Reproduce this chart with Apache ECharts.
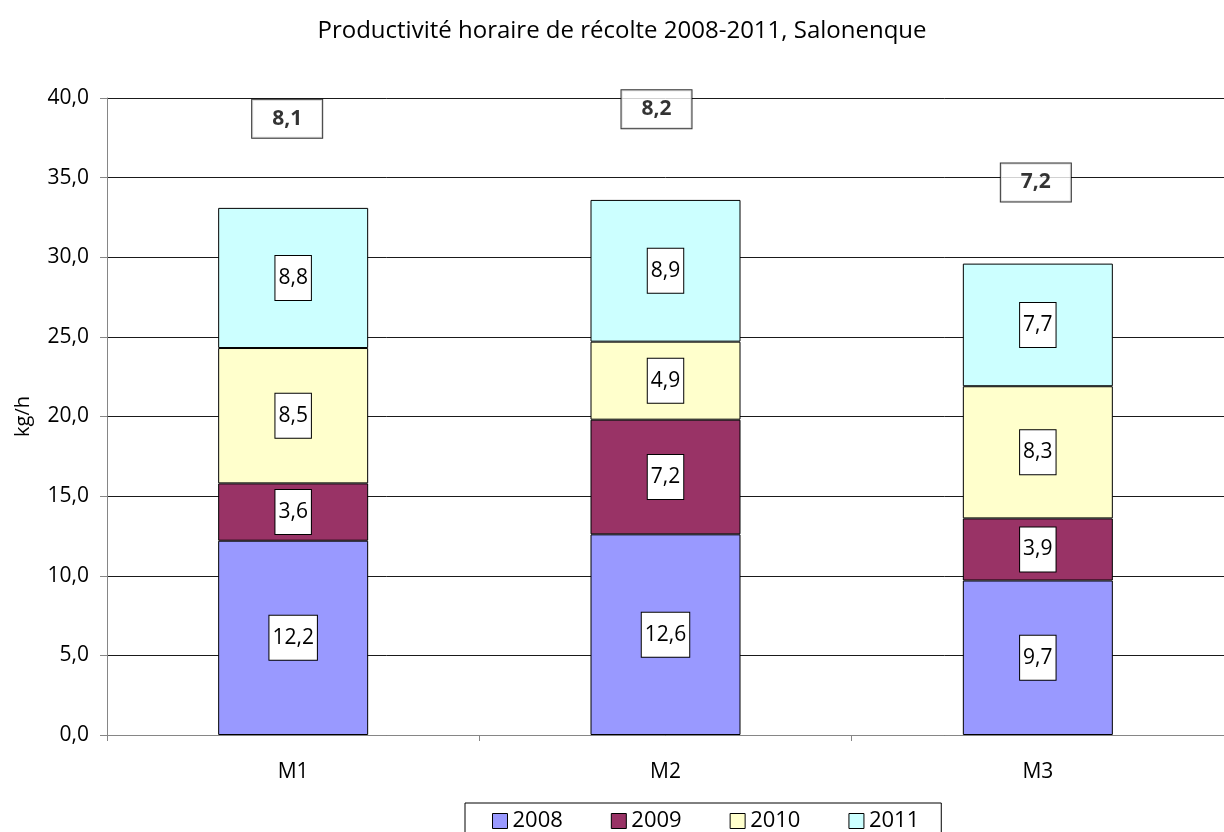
<!DOCTYPE html>
<html>
<head>
<meta charset="utf-8">
<script src="https://cdn.jsdelivr.net/npm/echarts@6/dist/echarts.min.js"></script>
<style>html,body{margin:0;padding:0;background:#fff;}#chart{width:1224px;height:832px;}</style>
</head>
<body>
<div id="chart"></div>
<script>
var titleText = 'Productivité horaire de récolte 2008-2011, Salonenque';
var categories = ['M1', 'M2', 'M3'];
var seriesNames = ['2008', '2009', '2010', '2011'];
var values2008 = [12.2, 12.6, 9.7];
var values2009 = [3.6, 7.2, 3.9];
var values2010 = [8.5, 4.9, 8.3];
var values2011 = [8.8, 8.9, 7.7];
var avgValues = [8.1, 8.2, 7.2];
var avgLabelY = [38.7, 39.3, 34.7];
var yTicks = [0, 5, 10, 15, 20, 25, 30, 35, 40];

var FONT = '"Open Sans", "Noto Sans", sans-serif';
var colors = ['#9999FF', '#993366', '#FFFFCC', '#CCFFFF'];
var allValues = [values2008, values2009, values2010, values2011];
function fmt(v) { return v.toFixed(1).replace('.', ','); }

var barSeries = seriesNames.map(function (name, i) {
  return {
    name: name,
    type: 'bar',
    stack: 'total',
    barWidth: 150,
    data: allValues[i],
    itemStyle: { color: colors[i], borderColor: '#000', borderWidth: 1 },
    label: {
      show: true,
      position: 'inside',
      formatter: function (p) { return fmt(p.value); },
      color: '#000',
      fontFamily: FONT,
      fontSize: 21,
      backgroundColor: '#fff',
      borderColor: '#000',
      borderWidth: 1,
      padding: [12, 3, 11, 3]
    },
    emphasis: { disabled: true }
  };
});

var avgOffsets = [-6, -9, -2];
var avgSeries = {
  type: 'scatter',
  name: 'avg',
  symbol: 'rect',
  symbolSize: 1,
  itemStyle: { color: 'rgba(0,0,0,0)' },
  data: avgValues.map(function (v, i) {
    return {
      value: [categories[i], avgLabelY[i]],
      avg: v,
      label: { offset: [avgOffsets[i], 0] }
    };
  }),
  label: {
    show: true,
    position: 'inside',
    formatter: function (p) { return fmt(p.data.avg); },
    color: '#000',
    fontFamily: FONT,
    fontSize: 21,
    fontWeight: 'bold',
    backgroundColor: '#fff',
    borderColor: '#000',
    borderWidth: 1,
    padding: [9, 20, 8, 20]
  },
  emphasis: { disabled: true },
  z: 5
};

var chart = echarts.init(document.getElementById('chart'), null, { renderer: 'canvas' });
chart.setOption({
  animation: false,
  backgroundColor: '#fff',
  title: {
    text: titleText,
    left: 617,
    textAlign: 'center',
    top: 14,
    textStyle: { fontFamily: FONT, fontSize: 24, fontWeight: 'normal', color: '#000' }
  },
  legend: {
    data: seriesNames,
    left: 465,
    top: 803,
    width: 480,
    orient: 'horizontal',
    itemWidth: 15,
    itemHeight: 15,
    itemGap: 48,
    padding: [7, 22, 8, 27],
    borderColor: '#000',
    borderWidth: 1,
    icon: 'rect',
    selectedMode: false,
    itemStyle: { borderColor: '#000', borderWidth: 1 },
    textStyle: { fontFamily: FONT, fontSize: 22, color: '#000' }
  },
  grid: { left: 107, top: 98, width: 1121, height: 637, containLabel: false },
  xAxis: {
    type: 'category',
    data: categories,
    axisLine: { lineStyle: { color: '#868686', width: 1 } },
    axisTick: { show: true, length: 6, lineStyle: { color: '#868686' } },
    axisLabel: { color: '#000', fontFamily: FONT, fontSize: 21, margin: 27 },
    splitLine: { show: false }
  },
  yAxis: {
    type: 'value',
    min: yTicks[0],
    max: yTicks[yTicks.length - 1],
    interval: yTicks[1] - yTicks[0],
    name: 'kg/h',
    nameLocation: 'middle',
    nameGap: 74,
    nameRotate: 90,
    nameTextStyle: { color: '#000', fontFamily: FONT, fontSize: 20 },
    axisLine: { show: true, lineStyle: { color: '#868686', width: 1 } },
    axisTick: { show: true, length: 7, lineStyle: { color: '#868686' } },
    axisLabel: { color: '#000', fontFamily: FONT, fontSize: 21, margin: 18, formatter: function (v) { return fmt(v); } },
    splitLine: { show: true, lineStyle: { color: '#1a1a1a', width: 1 } }
  },
  series: barSeries.concat([avgSeries])
});
</script>
</body>
</html>
